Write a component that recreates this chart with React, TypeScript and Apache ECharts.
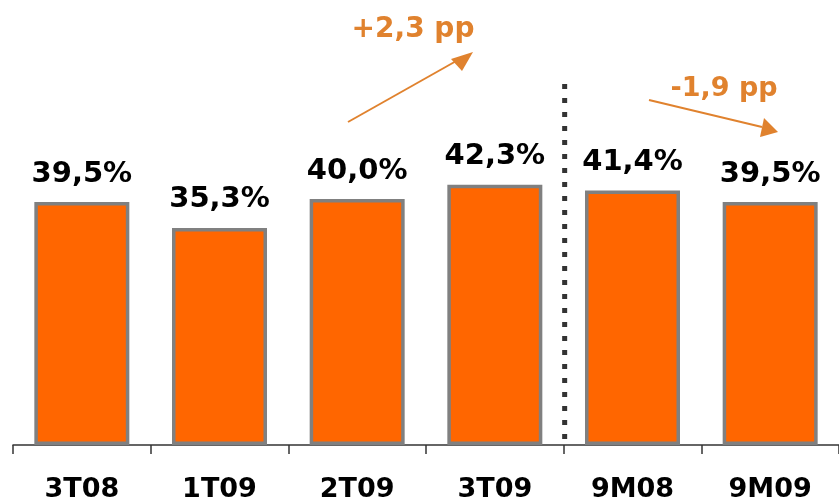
import React, { useEffect, useRef } from "react";
import * as echarts from "echarts";

const categories = ["3T08", "1T09", "2T09", "3T09", "9M08", "9M09"];
const values = [39.5, 35.3, 40.0, 42.3, 41.4, 39.5];
const annotationUp = "+2,3 pp";
const annotationDown = "-1,9 pp";

const ORANGE = "#FF6600";
const ANNOT = "#E0822E";
const FONT = "'DejaVu Sans', Verdana, sans-serif";

export default function App() {
  const ref = useRef<HTMLDivElement>(null);
  useEffect(() => {
    if (!ref.current) return;
    const chart = echarts.init(ref.current, null, { renderer: "svg" });
    chart.setOption({
      animation: false,
      grid: { left: 13, right: -5, top: 14.5, bottom: 59 },
      xAxis: {
        type: "category",
        data: categories,
        axisLine: { show: true, lineStyle: { color: "#333", width: 1.5 } },
        axisTick: { show: true, length: 9, lineStyle: { color: "#333", width: 1.5 } },
        axisLabel: {
          margin: 29,
          color: "#000",
          fontFamily: FONT,
          fontWeight: "bold",
          fontSize: 27,
        },
      },
      yAxis: {
        type: "value",
        min: 0,
        max: 70,
        show: false,
        splitLine: { show: false },
      },
      series: [
        {
          type: "bar",
          data: values,
          barCategoryGap: "31%",
          itemStyle: { color: ORANGE, borderColor: "#808080", borderWidth: 3.5 },
          label: {
            show: true,
            position: "top",
            distance: 16,
            color: "#000",
            fontFamily: FONT,
            fontWeight: "bold",
            fontSize: 29,
            formatter: (p: any) => p.value.toFixed(1).replace(".", ",") + "%",
          },
        },
      ],
    });

    const x3 = chart.convertToPixel({ xAxisIndex: 0 }, categories[3]) as number;
    const x4 = chart.convertToPixel({ xAxisIndex: 0 }, categories[4]) as number;
    const sepX = (x3 + x4) / 2 + 1;

    chart.setOption({
      graphic: [
        {
          type: "line",
          shape: { x1: sepX, y1: 84, x2: sepX, y2: 441 },
          style: { stroke: "#333", lineWidth: 5, lineDash: [5, 9] },
        },
        {
          type: "text",
          x: 413,
          y: 27,
          style: {
            text: annotationUp,
            fill: ANNOT,
            font: `bold 28px ${FONT}`,
            align: "center",
            verticalAlign: "middle",
          },
        },
        {
          type: "line",
          shape: { x1: 348, y1: 122, x2: 458, y2: 60 },
          style: { stroke: ANNOT, lineWidth: 2 },
        },
        {
          type: "polygon",
          shape: { points: [[473, 52], [451, 59], [462, 71]] },
          style: { fill: ANNOT },
        },
        {
          type: "text",
          x: 724,
          y: 86,
          style: {
            text: annotationDown,
            fill: ANNOT,
            font: `bold 27px ${FONT}`,
            align: "center",
            verticalAlign: "middle",
          },
        },
        {
          type: "line",
          shape: { x1: 649, y1: 100, x2: 762, y2: 127 },
          style: { stroke: ANNOT, lineWidth: 2 },
        },
        {
          type: "polygon",
          shape: { points: [[778, 132], [760, 137], [764, 118]] },
          style: { fill: ANNOT },
        },
      ],
    });

    return () => chart.dispose();
  }, []);
  return (
    <div
      ref={ref}
      style={{ position: "fixed", left: 0, top: 0, width: 839, height: 504 }}
    />
  );
}
